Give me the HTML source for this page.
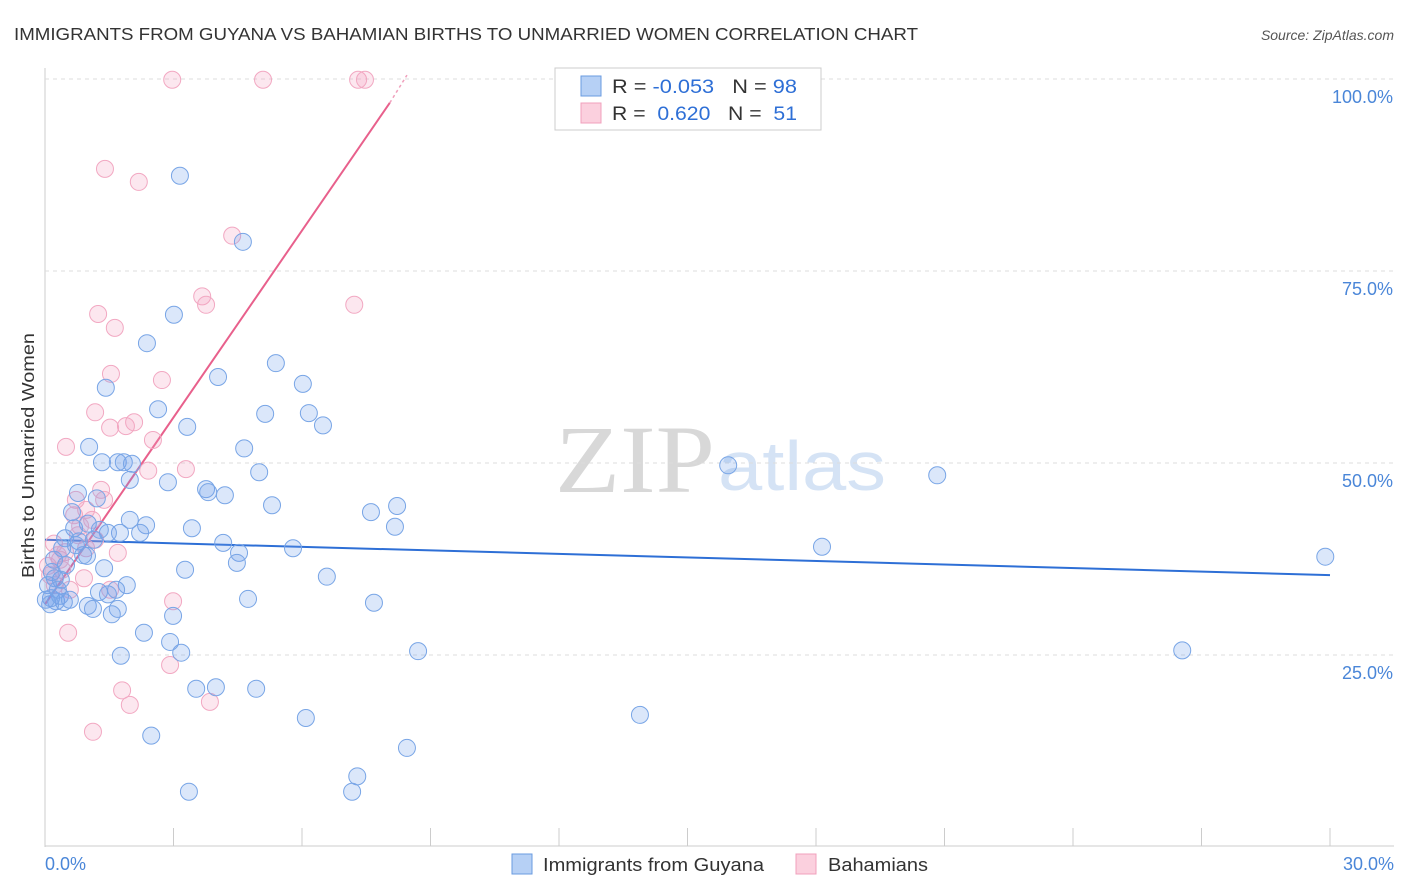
<!DOCTYPE html>
<html><head><meta charset="utf-8">
<style>
body{margin:0;background:#fff;font-family:"Liberation Sans",sans-serif;}
svg{display:block}
</style></head>
<body>
<svg id="chart" width="1406" height="892">
<text x="14" y="40" font-size="17.5" fill="#333" textLength="904" lengthAdjust="spacingAndGlyphs">IMMIGRANTS FROM GUYANA VS BAHAMIAN BIRTHS TO UNMARRIED WOMEN CORRELATION CHART</text>
<text x="1394" y="40" font-size="14" fill="#555" font-style="italic" text-anchor="end">Source: ZipAtlas.com</text>
<text transform="translate(34,578) rotate(-90)" font-size="17.5" fill="#333" textLength="245" lengthAdjust="spacingAndGlyphs">Births to Unmarried Women</text>
<text x="555" y="492" font-size="96" fill="#d8d8d8" font-family="Liberation Serif,serif" textLength="160" lengthAdjust="spacingAndGlyphs">ZIP</text>
<text x="718" y="490" font-size="70" fill="#d5e3f5" textLength="168" lengthAdjust="spacingAndGlyphs">atlas</text>
<g id="grid"></g>
<g id="lines"></g>
<g id="pts"></g>
<g>
<rect x="555" y="68" width="266" height="62" fill="#fff" stroke="#ccc"/>
<rect x="581" y="76" width="20" height="20" fill="#b6d0f5" stroke="#6a9be0"/>
<rect x="581" y="103" width="20" height="20" fill="#fbd0de" stroke="#f0a0bc"/>
<text x="612" y="93" font-size="19.5" fill="#333" textLength="185" lengthAdjust="spacingAndGlyphs">R = <tspan fill="#2e6fd6">-0.053</tspan>&#160;&#160;&#160;N = <tspan fill="#2e6fd6">98</tspan></text>
<text x="612" y="120" font-size="19.5" fill="#333" textLength="185" lengthAdjust="spacingAndGlyphs">R = &#160;<tspan fill="#2e6fd6">0.620</tspan>&#160;&#160;&#160;N = &#160;<tspan fill="#2e6fd6">51</tspan></text>
</g>
<g>
<rect x="512" y="854" width="20" height="20" fill="#b6d0f5" stroke="#6a9be0"/>
<text x="543" y="871" font-size="18" fill="#333" textLength="221" lengthAdjust="spacingAndGlyphs">Immigrants from Guyana</text>
<rect x="796" y="854" width="20" height="20" fill="#fbd0de" stroke="#f0a0bc"/>
<text x="828" y="871" font-size="18" fill="#333" textLength="100" lengthAdjust="spacingAndGlyphs">Bahamians</text>
</g>
</svg>
<script>
const xTicks=[0,3,6,9,12,15,18,21,24,27,30];
const yTicks=[25,50,75,100];
const yTickLabels=["25.0%","50.0%","75.0%","100.0%"];
const xEndLabels=["0.0%","30.0%"];
const guyanaX=[3.15,4.62,3.01,2.38,5.39,4.04,1.42,6.02,2.64,5.14,6.16,6.49,3.32,1.03,4.65,1.33,1.70,1.84,2.03,15.95,20.83,5.00,1.98,2.87,3.76,3.81,4.20,1.21,0.77,5.30,8.22,7.61,2.36,3.43,1.00,0.68,8.17,0.63,1.75,1.47,2.22,0.47,0.79,1.14,4.16,5.79,18.14,29.89,4.53,0.98,0.89,4.48,0.49,1.38,3.27,0.16,6.58,0.37,1.91,1.66,1.26,1.47,4.74,0.14,0.26,0.44,7.68,1.00,1.12,1.70,1.56,2.99,2.31,2.92,3.18,8.71,26.55,1.77,3.53,3.99,4.93,13.89,6.09,2.48,8.45,7.29,3.36,7.17,0.23,0.07,0.30,0.35,0.58,0.12,0.21,0.40,0.72,0.02,1.28,1.98];
const guyanaY=[87.4,78.8,69.3,65.6,63.0,61.2,59.8,60.3,57.0,56.4,56.5,54.9,54.7,52.1,51.9,50.1,50.1,50.1,49.9,49.7,48.4,48.8,47.8,47.5,46.6,46.2,45.8,45.4,46.1,44.5,44.4,43.6,41.9,41.5,42.1,41.5,41.7,43.6,40.9,40.9,40.9,40.2,39.8,40.0,39.6,38.9,39.1,37.8,38.3,37.9,38.0,37.0,36.7,36.3,36.1,35.8,35.2,34.8,34.1,33.5,33.2,32.9,32.3,32.4,32.0,31.9,31.8,31.4,31.0,31.0,30.3,30.1,27.9,26.7,25.3,25.5,25.6,24.9,20.6,20.8,20.6,17.2,16.8,14.5,12.9,9.2,7.2,7.2,35.0,34.1,33.5,32.7,32.2,31.6,37.4,38.9,39.3,32.2,41.3,42.6];
const bahX=[2.97,5.09,7.31,7.47,1.40,2.19,4.37,3.67,3.76,7.22,1.24,1.63,1.54,2.73,1.17,2.08,1.89,1.52,2.52,0.49,2.41,3.29,1.31,1.38,0.72,0.96,1.10,0.68,0.82,0.47,0.96,1.70,0.21,0.35,0.07,0.58,0.91,1.52,2.99,0.54,2.92,1.80,1.98,3.85,1.12,0.30,0.12,0.40,1.17,0.77,0.23];
const bahY=[99.9,99.9,99.9,99.9,88.3,86.6,79.6,71.7,70.6,70.6,69.4,67.6,61.6,60.8,56.6,55.3,54.8,54.6,53.0,52.1,49.0,49.2,46.5,45.2,45.2,43.9,42.6,43.2,41.8,38.4,38.9,38.3,39.5,37.4,36.6,33.5,35.0,33.5,32.0,27.9,23.7,20.4,18.5,18.9,15.0,38.0,35.4,36.1,40.0,40.6,34.1];
const guyanaTrend=[0,40.0,30,35.4];
const bahTrend=[0,31.6,8.05,96.9,8.45,100.5];

const X=v=>45+v/30*1285;
const Y=v=>847-v/100*768;
const NS="http://www.w3.org/2000/svg";
function mk(tag,attrs,parent){const e=document.createElementNS(NS,tag);for(const k in attrs)e.setAttribute(k,attrs[k]);parent.appendChild(e);return e;}
const grid=document.getElementById('grid');
const lines=document.getElementById('lines');
const pts=document.getElementById('pts');
let ax=mk('line',{x1:45,y1:68,x2:45,y2:847,stroke:'#ccc'},grid);


let bx=mk('line',{x1:45,y1:846,x2:1394,y2:846,stroke:'#ccc'},grid);


yTicks.forEach((t,i)=>{
 let g=mk('line',{x1:45,y1:Y(t),x2:1394,y2:Y(t),stroke:'#ddd','stroke-dasharray':'4,4'},grid);
 
 
 let tx=mk('text',{x:1393,y:Y(t)+24,'font-size':18,fill:'#4a86d8','text-anchor':'end'},grid);
 tx.textContent=yTickLabels[i];
 
 
});
xTicks.forEach(t=>{
 let l=mk('line',{x1:X(t),y1:828,x2:X(t),y2:846,stroke:'#ccc'},grid);
 
 
});
let l0=mk('text',{x:45,y:870,'font-size':18,fill:'#4a86d8'},grid);l0.textContent=xEndLabels[0];


let l1=mk('text',{x:1394,y:870,'font-size':18,fill:'#4a86d8','text-anchor':'end'},grid);l1.textContent=xEndLabels[1];


function dots(xs,ys,fill,stroke,name){
 xs.forEach((x,i)=>{
  let c=mk('circle',{cx:X(x),cy:Y(ys[i]),r:8.5,fill:fill,stroke:stroke,'stroke-width':1},pts);
  
  
 });
}
dots(bahX,bahY,'rgba(245,160,190,0.25)','#f2a8c2','bahamians-point');
dots(guyanaX,guyanaY,'rgba(110,160,235,0.25)','#78a5e6','guyana-point');
let tb=mk('line',{x1:X(guyanaTrend[0]),y1:Y(guyanaTrend[1]),x2:X(guyanaTrend[2]),y2:Y(guyanaTrend[3]),stroke:'#2e6fd6','stroke-width':2},lines);


let tp=mk('line',{x1:X(bahTrend[0]),y1:Y(bahTrend[1]),x2:X(bahTrend[2]),y2:Y(bahTrend[3]),stroke:'#e8608c','stroke-width':2},lines);


let td=mk('line',{x1:X(bahTrend[2]),y1:Y(bahTrend[3]),x2:X(bahTrend[4]),y2:Y(bahTrend[5]),stroke:'#f0a0bc','stroke-width':1.5,'stroke-dasharray':'3,3'},lines);


</script>
</body></html>
